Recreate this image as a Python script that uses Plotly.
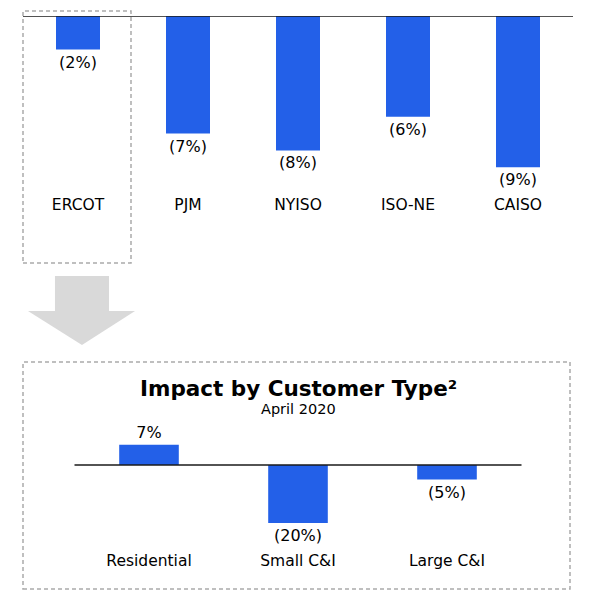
import plotly.graph_objects as go

# ---- data ----
regions = ["ERCOT", "PJM", "NYISO", "ISO-NE", "CAISO"]
region_impact = [-2, -7, -8, -6, -9]
customer_types = ["Residential", "Small C&I", "Large C&I"]
customer_impact = [7, -20, -5]
panel_title = "Impact by Customer Type²"
panel_subtitle = "April 2020"


def fmt(v):
    return f"({abs(v)}%)" if v < 0 else f"{v}%"


BLUE = "#2360E8"
W = H = 600
OFF = 8  # page body margin offset
FONT = "DejaVu Sans"


def fx(p):
    return (p - OFF) / W


def fy(p):
    return 1 - (p - OFF) / H


fig = go.Figure()
fig.add_trace(go.Bar(
    x=regions, y=region_impact, text=[fmt(v) for v in region_impact],
    textposition="outside", constraintext="none", cliponaxis=False,
    marker=dict(color=BLUE, line=dict(width=0)), width=0.4,
    textfont=dict(size=16, color="black", family=FONT),
    xaxis="x", yaxis="y", hoverinfo="skip",
))
fig.add_trace(go.Bar(
    x=customer_types, y=customer_impact, text=[fmt(v) for v in customer_impact],
    textposition="outside", constraintext="none", cliponaxis=False,
    marker=dict(color=BLUE, line=dict(width=0)), width=0.4,
    textfont=dict(size=16, color="black", family=FONT),
    xaxis="x2", yaxis="y2", hoverinfo="skip",
))

top_base, top_bottom, top_scale = 16, 193, 16.8
bot_top, bot_base, bot_bottom, bot_scale = 440, 465, 549, 2.9

fig.update_layout(
    width=W, height=H, autosize=False,
    margin=dict(l=0, r=0, t=0, b=0),
    paper_bgcolor="white", plot_bgcolor="rgba(0,0,0,0)",
    showlegend=False,
    font=dict(family=FONT, size=15, color="black"),
    xaxis=dict(domain=[fx(23), fx(573)], anchor="y", showgrid=False, zeroline=False,
               showline=False, ticks="", tickfont=dict(size=15.5, color="black")),
    yaxis=dict(domain=[fy(top_bottom), fy(top_base)],
               range=[-(top_bottom - top_base) / top_scale, 0],
               visible=False, showgrid=False, zeroline=False),
    xaxis2=dict(domain=[fx(74.5), fx(521.5)], anchor="y2", showgrid=False, zeroline=False,
                showline=False, ticks="", tickfont=dict(size=15.5, color="black")),
    yaxis2=dict(domain=[fy(bot_bottom), fy(bot_top)],
                range=[-(bot_bottom - bot_base) / bot_scale, (bot_base - bot_top) / bot_scale],
                visible=False, showgrid=False, zeroline=False),
)

DASH = dict(color="#ababab", width=1.5, dash="4px,3px")
shapes = [
    # baselines
    dict(type="line", xref="x domain", yref="y", x0=0, x1=1, y0=0, y1=0,
         line=dict(color="#1a1a1a", width=1.4), layer="above"),
    dict(type="line", xref="x2 domain", yref="y2", x0=0, x1=1, y0=0, y1=0,
         line=dict(color="#1a1a1a", width=1.4), layer="above"),
    # dashed boxes
    dict(type="rect", xref="paper", yref="paper", x0=fx(23), x1=fx(131), y0=fy(263), y1=fy(11),
         line=DASH, layer="below"),
    dict(type="rect", xref="paper", yref="paper", x0=fx(23), x1=fx(570), y0=fy(589), y1=fy(362),
         line=DASH, layer="below"),
]
arrow_pts = [(55, 276), (109, 276), (109, 311), (135, 311), (82, 345), (28, 311), (55, 311)]
path = "M " + " L ".join(f"{fx(x):.4f},{fy(y):.4f}" for x, y in arrow_pts) + " Z"
shapes.append(dict(type="path", xref="paper", yref="paper", path=path,
                   fillcolor="#d9d9d9", line=dict(width=0), layer="below"))
fig.update_layout(shapes=shapes)

fig.add_annotation(x=fx(298), y=fy(388), xref="paper", yref="paper", showarrow=False,
                   text=f"<b>{panel_title}</b>", font=dict(size=21.5, color="black", family=FONT),
                   xanchor="center", yanchor="middle")
fig.add_annotation(x=fx(298), y=fy(409), xref="paper", yref="paper", showarrow=False,
                   text=panel_subtitle, font=dict(size=14.5, color="black", family=FONT),
                   xanchor="center", yanchor="middle")

fig.write_html("out.html")
